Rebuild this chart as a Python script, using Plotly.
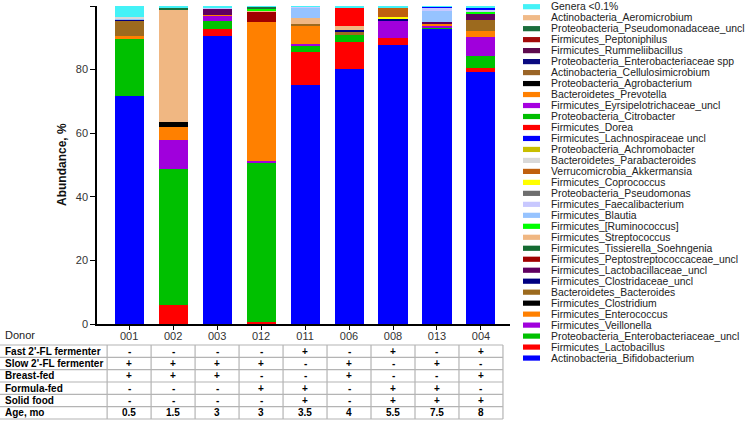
import plotly.graph_objects as go

# ---------------- data ----------------
donors = ['001', '002', '003', '012', '011', '006', '008', '013', '004']

# abundance (%) per donor, listed bottom-to-top of the stack
bifidobacterium        = [71.7, 0.0, 90.7, 0.0, 75.3, 80.1, 87.8, 92.8, 79.3]
lactobacillus          = [0.0, 6.0, 2.2, 0.5, 10.3, 8.6, 2.2, 0.0, 1.2]
enterobacteriaceae_unc = [18.0, 42.7, 2.5, 50.1, 2.1, 2.1, 0.0, 0.4, 3.9]
veillonella            = [0.0, 9.2, 1.5, 0.7, 0.3, 0.0, 5.3, 0.6, 5.9]
enterococcus           = [1.0, 4.1, 0.3, 43.7, 6.0, 0.0, 0.0, 0.5, 1.7]
clostridium            = [0.0, 1.5, 0.0, 0.0, 0.0, 0.0, 0.0, 0.0, 0.0]
bacteroides            = [4.8, 0.0, 0.0, 0.0, 0.3, 1.3, 0.0, 0.0, 3.5]
clostridiaceae         = [0.3, 0.0, 0.0, 0.0, 0.0, 0.3, 0.9, 0.0, 0.0]
lactobacillaceae       = [0.0, 0.0, 1.9, 0.0, 0.0, 0.0, 0.0, 0.7, 2.1]
peptostreptococcaceae  = [0.0, 0.0, 0.0, 3.4, 0.0, 0.0, 0.0, 0.0, 0.0]
tissierella            = [0.0, 0.0, 0.0, 0.0, 0.0, 0.0, 0.0, 0.0, 0.0]
streptococcus          = [0.0, 35.3, 0.0, 0.3, 1.8, 1.3, 0.0, 0.0, 0.0]
ruminococcus           = [0.0, 0.0, 0.0, 0.6, 0.0, 0.0, 0.0, 0.0, 0.8]
blautia                = [0.3, 0.0, 0.0, 0.0, 3.3, 0.0, 0.0, 3.4, 0.0]
faecalibacterium       = [0.0, 0.0, 0.3, 0.0, 0.3, 0.0, 0.0, 1.0, 0.6]
pseudomonas            = [0.0, 0.0, 0.0, 0.0, 0.0, 0.0, 0.0, 0.0, 0.0]
coprococcus            = [0.0, 0.0, 0.0, 0.0, 0.0, 0.0, 0.3, 0.0, 0.0]
akkermansia            = [0.0, 0.0, 0.0, 0.0, 0.0, 0.0, 2.9, 0.0, 0.0]
parabacteroides        = [0.5, 0.0, 0.0, 0.0, 0.0, 0.0, 0.0, 0.0, 0.0]
achromobacter          = [0.0, 0.0, 0.0, 0.0, 0.0, 0.0, 0.0, 0.0, 0.0]
lachnospiraceae        = [0.0, 0.0, 0.0, 0.0, 0.0, 0.0, 0.0, 0.3, 0.6]
dorea                  = [0.0, 0.0, 0.0, 0.0, 0.0, 5.7, 0.0, 0.0, 0.0]
citrobacter            = [0.0, 0.0, 0.0, 0.0, 0.0, 0.0, 0.0, 0.0, 0.0]
eyrsipelotrichaceae    = [0.0, 0.0, 0.0, 0.0, 0.0, 0.0, 0.0, 0.0, 0.0]
prevotella             = [0.0, 0.0, 0.0, 0.0, 0.0, 0.0, 0.0, 0.0, 0.0]
agrobacterium          = [0.0, 0.0, 0.0, 0.0, 0.0, 0.0, 0.0, 0.0, 0.0]
cellulosimicrobium     = [0.0, 0.0, 0.0, 0.0, 0.0, 0.0, 0.0, 0.0, 0.0]
enterobacteriaceae_spp = [0.0, 0.0, 0.0, 0.0, 0.0, 0.0, 0.0, 0.0, 0.0]
rummeliibacillus       = [0.0, 0.0, 0.0, 0.0, 0.0, 0.0, 0.0, 0.0, 0.0]
peptoniphilus          = [0.0, 0.0, 0.0, 0.0, 0.0, 0.0, 0.0, 0.0, 0.0]
pseudomonadaceae       = [0.0, 0.5, 0.0, 0.5, 0.0, 0.0, 0.0, 0.0, 0.0]
aeromicrobium          = [0.0, 0.0, 0.0, 0.0, 0.0, 0.0, 0.0, 0.0, 0.0]
genera_low             = [3.4, 0.7, 0.6, 0.2, 0.3, 0.6, 0.6, 0.3, 0.4]

# table rows
row_labels = ["Fast 2'-FL fermenter", "Slow 2'-FL fermenter", "Breast-fed",
              "Formula-fed", "Solid food", "Age, mo"]
fast_fermenter = ['-', '-', '-', '-', '+', '-', '+', '-', '+']
slow_fermenter = ['+', '+', '+', '+', '-', '+', '-', '+', '-']
breast_fed     = ['+', '+', '+', '-', '-', '+', '-', '-', '+']
formula_fed    = ['-', '-', '-', '+', '+', '-', '+', '+', '-']
solid_food     = ['-', '-', '-', '-', '+', '-', '+', '+', '+']
age_months     = ['0.5', '1.5', '3', '3', '3.5', '4', '5.5', '7.5', '8']
table_rows = [fast_fermenter, slow_fermenter, breast_fed, formula_fed, solid_food, age_months]

# stack (bottom -> top)
stack = [
    ("Actinobacteria_Bifidobacterium", bifidobacterium),
    ("Firmicutes_Lactobacillus", lactobacillus),
    ("Proteobacteria_Enterobacteriaceae_uncl", enterobacteriaceae_unc),
    ("Firmicutes_Veillonella", veillonella),
    ("Firmicutes_Enterococcus", enterococcus),
    ("Firmicutes_Clostridium", clostridium),
    ("Bacteroidetes_Bacteroides", bacteroides),
    ("Firmicutes_Clostridaceae_uncl", clostridiaceae),
    ("Firmicutes_Lactobacillaceae_uncl", lactobacillaceae),
    ("Firmicutes_Peptostreptococcaceae_uncl", peptostreptococcaceae),
    ("Firmicutes_Tissierella_Soehngenia", tissierella),
    ("Firmicutes_Streptococcus", streptococcus),
    ("Firmicutes_[Ruminococcus]", ruminococcus),
    ("Firmicutes_Blautia", blautia),
    ("Firmicutes_Faecalibacterium", faecalibacterium),
    ("Proteobacteria_Pseudomonas", pseudomonas),
    ("Firmicutes_Coprococcus", coprococcus),
    ("Verrucomicrobia_Akkermansia", akkermansia),
    ("Bacteroidetes_Parabacteroides", parabacteroides),
    ("Proteobacteria_Achromobacter", achromobacter),
    ("Firmicutes_Lachnospiraceae uncl", lachnospiraceae),
    ("Firmicutes_Dorea", dorea),
    ("Proteobacteria_Citrobacter", citrobacter),
    ("Firmicutes_Eyrsipelotrichaceae_uncl", eyrsipelotrichaceae),
    ("Bacteroidetes_Prevotella", prevotella),
    ("Proteobacteria_Agrobacterium", agrobacterium),
    ("Actinobacteria_Cellulosimicrobium", cellulosimicrobium),
    ("Proteobacteria_Enterobacteriaceae spp", enterobacteriaceae_spp),
    ("Firmicutes_Rummeliibacillus", rummeliibacillus),
    ("Firmicutes_Peptoniphilus", peptoniphilus),
    ("Proteobacteria_Pseudomonadaceae_uncl", pseudomonadaceae),
    ("Actinobacteria_Aeromicrobium", aeromicrobium),
    ("Genera <0.1%", genera_low),
]

colors = {
    "Actinobacteria_Bifidobacterium": "#0000FF",
    "Firmicutes_Lactobacillus": "#FF0000",
    "Proteobacteria_Enterobacteriaceae_uncl": "#00C000",
    "Firmicutes_Veillonella": "#A000DC",
    "Firmicutes_Enterococcus": "#FF8000",
    "Firmicutes_Clostridium": "#000000",
    "Bacteroidetes_Bacteroides": "#9C6A1E",
    "Firmicutes_Clostridaceae_uncl": "#000080",
    "Firmicutes_Lactobacillaceae_uncl": "#600060",
    "Firmicutes_Peptostreptococcaceae_uncl": "#A00000",
    "Firmicutes_Tissierella_Soehngenia": "#146B32",
    "Firmicutes_Streptococcus": "#F0B782",
    "Firmicutes_[Ruminococcus]": "#00FF00",
    "Firmicutes_Blautia": "#96C3FF",
    "Firmicutes_Faecalibacterium": "#C8C8FF",
    "Proteobacteria_Pseudomonas": "#6E6E6E",
    "Firmicutes_Coprococcus": "#FFFF00",
    "Verrucomicrobia_Akkermansia": "#C0600E",
    "Bacteroidetes_Parabacteroides": "#D9D9D9",
    "Proteobacteria_Achromobacter": "#C8BE00",
    "Firmicutes_Lachnospiraceae uncl": "#0000FF",
    "Firmicutes_Dorea": "#FF0000",
    "Proteobacteria_Citrobacter": "#00BE00",
    "Firmicutes_Eyrsipelotrichaceae_uncl": "#A600E0",
    "Bacteroidetes_Prevotella": "#FF8000",
    "Proteobacteria_Agrobacterium": "#000000",
    "Actinobacteria_Cellulosimicrobium": "#9A6426",
    "Proteobacteria_Enterobacteriaceae spp": "#0A0A80",
    "Firmicutes_Rummeliibacillus": "#5E0A4E",
    "Firmicutes_Peptoniphilus": "#A30A0A",
    "Proteobacteria_Pseudomonadaceae_uncl": "#1B6E3C",
    "Actinobacteria_Aeromicrobium": "#F0BA88",
    "Genera <0.1%": "#44F2F7",
}

# ---------------- layout geometry ----------------
W, H = 745, 421
ML, MR, MT, MB = 97, 235, 6, 97
PW, PH = W - ML - MR, H - MT - MB
XR = [-0.73, 8.66]
FONT = "Liberation Sans, Arial, sans-serif"


def px_x(p):
    return (p - ML) / PW


def px_y(p):
    return (H - MB - p) / PH


def data_x_to_paper(v):
    return (v - XR[0]) / (XR[1] - XR[0])


fig = go.Figure()
for name, vals in stack:
    fig.add_trace(go.Bar(
        x=donors, y=vals, name=name, width=0.66,
        marker=dict(color=colors[name], line=dict(width=0)),
        showlegend=False,
    ))

shapes = []
annotations = []

# manual legend (top -> bottom = reverse of stack)
legend_items = [n for n, _ in stack][::-1]
for k, name in enumerate(legend_items):
    yc = 6.7 + 10.98 * k
    shapes.append(dict(type="rect", xref="paper", yref="paper",
                       x0=px_x(523), x1=px_x(540),
                       y0=px_y(yc + 2.6), y1=px_y(yc - 2.6),
                       fillcolor=colors[name], line=dict(width=0)))
    annotations.append(dict(text=name, xref="paper", yref="paper",
                            x=px_x(549), y=px_y(yc), xanchor="left", yanchor="middle",
                            showarrow=False, font=dict(family=FONT, size=10.4, color="#222")))

# y-axis title
annotations.append(dict(text="<b>Abundance, %</b>", xref="paper", yref="paper",
                        x=px_x(62), y=0.5, textangle=-90, showarrow=False,
                        xanchor="center", yanchor="middle",
                        font=dict(family=FONT, size=12, color="#111")))

# "Donor" label
annotations.append(dict(text="Donor", xref="paper", yref="paper",
                        x=px_x(3), y=px_y(334.5), xanchor="left", yanchor="middle",
                        showarrow=False, font=dict(family=FONT, size=11, color="#222")))

# table
row_top = 345.0
row_h = 12.33
grid_col = "#B4B4B4"
right_edge = data_x_to_paper(len(donors) - 0.5)
for r in range(len(row_labels) + 1):
    yy = px_y(row_top + r * row_h)
    shapes.append(dict(type="line", xref="paper", yref="paper",
                       x0=px_x(0), x1=right_edge, y0=yy, y1=yy,
                       line=dict(color=grid_col, width=1.2)))
for i in range(len(donors) + 1):
    shapes.append(dict(type="line", xref="x", yref="paper",
                       x0=i - 0.5, x1=i - 0.5,
                       y0=px_y(row_top), y1=px_y(row_top + len(row_labels) * row_h),
                       line=dict(color=grid_col, width=1.2)))
for r, (lab, vals) in enumerate(zip(row_labels, table_rows)):
    yc = px_y(row_top + (r + 0.5) * row_h)
    annotations.append(dict(text="<b>%s</b>" % lab, xref="paper", yref="paper",
                            x=px_x(3), y=yc, xanchor="left", yanchor="middle",
                            showarrow=False, font=dict(family=FONT, size=10, color="#000")))
    for i, v in enumerate(vals):
        annotations.append(dict(text="<b>%s</b>" % v, xref="x", yref="paper",
                                x=i, y=yc, xanchor="center", yanchor="middle",
                                showarrow=False, font=dict(family=FONT, size=10, color="#000")))

fig.update_layout(
    width=W, height=H,
    margin=dict(l=ML, r=MR, t=MT, b=MB),
    barmode="stack",
    plot_bgcolor="white", paper_bgcolor="white",
    font=dict(family=FONT, size=11, color="#222"),
    xaxis=dict(range=XR, showline=True, linecolor="black", linewidth=1.5,
               ticks="outside", ticklen=4, tickwidth=1.2, tickcolor="black",
               ticklabelstandoff=-3,
               tickfont=dict(family=FONT, size=11, color="#333"),
               showgrid=False, zeroline=False),
    yaxis=dict(range=[0, 100], tickvals=[0, 20, 40, 60, 80, 100],
               showline=True, linecolor="black", linewidth=1.5,
               ticks="outside", ticklen=5, tickwidth=1.2, tickcolor="black",
               tickfont=dict(family=FONT, size=11, color="#333"),
               showgrid=False, zeroline=False),
    shapes=shapes,
    annotations=annotations,
)

fig.write_html("out.html", config={"displayModeBar": False},
               post_script="document.body.style.margin='0px';document.body.style.padding='0px';")
